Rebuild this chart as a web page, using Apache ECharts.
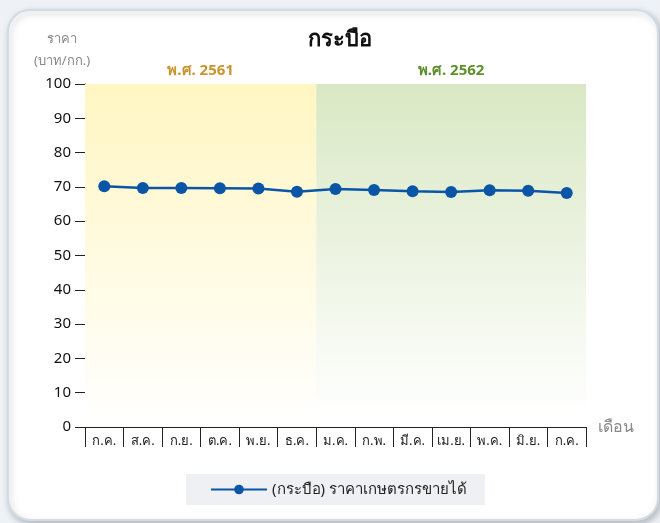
<!DOCTYPE html>
<html>
<head>
<meta charset="utf-8">
<script src="https://cdn.jsdelivr.net/npm/echarts@6/dist/echarts.min.js"></script>
<style>
html, body { margin: 0; padding: 0; background: #eef2f6; }
#main { width: 660px; height: 523px; }
</style>
</head>
<body>
<div id="main"></div>
<script>
var months = ['ก.ค.', 'ส.ค.', 'ก.ย.', 'ต.ค.', 'พ.ย.', 'ธ.ค.', 'ม.ค.', 'ก.พ.', 'มี.ค.', 'เม.ย.', 'พ.ค.', 'มิ.ย.', 'ก.ค.'];
var prices = [70.2, 69.7, 69.7, 69.6, 69.5, 68.6, 69.4, 69.1, 68.7, 68.5, 69.0, 68.9, 68.2];
var yearNames = ['พ.ศ. 2561', 'พ.ศ. 2562'];
var yearStart = [0, 6];   // first month index of each year
var yearEnd = [6, 13];    // one past the last month index
var seriesName = '(กระบือ) ราคาเกษตรกรขายได้';

var FONT = '"Noto Sans", sans-serif';

var myChart = echarts.init(document.getElementById('main'));

function grad(top) {
	return new echarts.graphic.LinearGradient(0, 0, 0, 1, [
		{ offset: 0, color: top },
		{ offset: 1, color: '#ffffff' }
	]);
}

var option = {
	backgroundColor: '#eef2f6',
	textStyle: { fontFamily: FONT },
	animation: false,
	graphic: [{
		type: 'rect',
		z: -10,
		shape: { x: 8, y: 10, width: 650, height: 510, r: 22 },
		style: {
			fill: '#ffffff',
			stroke: '#d3dbe4',
			lineWidth: 2,
			shadowBlur: 6,
			shadowOffsetX: 2,
			shadowOffsetY: 3,
			shadowColor: 'rgba(80,90,100,0.35)'
		}
	}],
	title: {
		text: 'กระบือ',
		left: 335,
		top: 24,
		textAlign: 'center',
		textStyle: { fontFamily: FONT, fontSize: 22, fontWeight: 'bold', color: '#111' }
	},
	legend: {
		bottom: 18,
		left: 186,
		backgroundColor: '#eff0f3',
		padding: [8, 18, 8, 24],
		itemWidth: 56,
		itemHeight: 12,
		textStyle: { fontFamily: FONT, fontSize: 15, color: '#222' },
		data: [seriesName]
	},
	grid: { left: 85, right: 74, top: 84, bottom: 96 },
	xAxis: [{
		type: 'category',
		data: months,
		name: 'เดือน',
		nameGap: 12,
		nameTextStyle: { fontFamily: FONT, fontSize: 16, color: '#888', verticalAlign: 'middle' },
		axisLine: { lineStyle: { color: '#222', width: 1 } },
		axisTick: { show: true, length: 20, lineStyle: { color: '#222' } },
		axisLabel: { interval: 0, margin: 8, fontFamily: FONT, fontSize: 13, color: '#222' },
		splitLine: { show: false }
	}, {
		// hidden helper axis so year bands can start on month boundaries
		type: 'value',
		min: 0,
		max: months.length,
		show: false
	}],
	yAxis: {
		type: 'value',
		min: 0,
		max: 100,
		interval: 10,
		name: 'ราคา\n(บาท/กก.)',
		nameGap: 12,
		nameTextStyle: { fontFamily: FONT, fontSize: 13, color: '#888', lineHeight: 22, align: 'center', padding: [0, 46, 0, 0] },
		axisLine: { show: true, lineStyle: { color: '#222', width: 1 } },
		axisTick: { show: true, length: 10, lineStyle: { color: '#222' } },
		axisLabel: { margin: 14, fontFamily: FONT, fontSize: 15, color: '#111' },
		splitLine: { show: true, lineStyle: { color: '#d8d8d8', type: 'dashed' } }
	},
	series: [{
		name: 'years',
		type: 'line',
		xAxisIndex: 1,
		data: [],
		z: 1,
		markArea: {
			silent: true,
			data: [
				[{
					name: yearNames[0],
					xAxis: yearStart[0],
					yAxis: 100,
					itemStyle: { color: grad('#fff6c2') },
					label: { color: '#c8952e' }
				}, { xAxis: yearEnd[0], yAxis: 0 }],
				[{
					name: yearNames[1],
					xAxis: yearStart[1],
					yAxis: 100,
					itemStyle: { color: grad('#d9e8c4') },
					label: { color: '#5e8f2c' }
				}, { xAxis: yearEnd[1], yAxis: 3 }]
			],
			label: {
				show: true,
				position: 'top',
				distance: 6,
				fontFamily: FONT,
				fontSize: 15,
				fontWeight: 'bold'
			}
		}
	}, {
		name: seriesName,
		type: 'line',
		data: prices,
		symbol: 'circle',
		symbolSize: 12,
		lineStyle: { color: '#0a55a5', width: 2.5 },
		itemStyle: { color: '#0a55a5' },
		z: 5
	}]
};

myChart.setOption(option);
window.onresize = myChart.resize;
</script>
</body>
</html>
